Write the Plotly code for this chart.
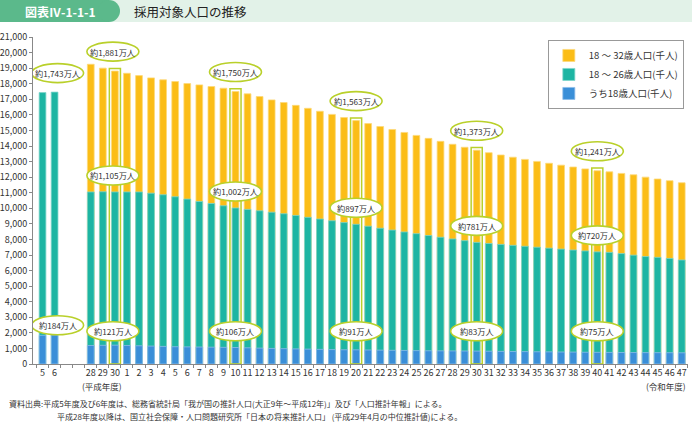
import plotly.graph_objects as go

# ---------------- data ----------------
x_ids = ["H5", "H6", "G1", "G2", "H28", "H29", "H30",
         "R1", "R2", "R3", "R4", "R5", "R6", "R7", "R8", "R9", "R10",
         "R11", "R12", "R13", "R14", "R15", "R16", "R17", "R18", "R19", "R20",
         "R21", "R22", "R23", "R24", "R25", "R26", "R27", "R28", "R29", "R30",
         "R31", "R32", "R33", "R34", "R35", "R36", "R37", "R38", "R39", "R40",
         "R41", "R42", "R43", "R44", "R45", "R46", "R47"]
x_labels = ["5", "6", "", "", "28", "29", "30",
            "1", "2", "3", "4", "5", "6", "7", "8", "9", "10",
            "11", "12", "13", "14", "15", "16", "17", "18", "19", "20",
            "21", "22", "23", "24", "25", "26", "27", "28", "29", "30",
            "31", "32", "33", "34", "35", "36", "37", "38", "39", "40",
            "41", "42", "43", "44", "45", "46", "47"]

pop_18_32 = [None, None, None, None, 19250, 19000, 18810,
             18670, 18520, 18375, 18250, 18140, 18010, 17925, 17820, 17710, 17500,
             17350, 17175, 16960, 16790, 16610, 16420, 16230, 16030, 15830, 15630,
             15440, 15250, 15060, 14870, 14680, 14490, 14300, 14110, 13920, 13730,
             13570, 13420, 13280, 13140, 13010, 12890, 12770, 12650, 12530, 12410,
             12340, 12240, 12150, 12000, 11880, 11770, 11640]
pop_18_26 = [17430, 17460, None, None, 11050, 11060, 11050,
             11050, 11050, 10970, 10870, 10740, 10590, 10440, 10310, 10160, 10020,
             9930, 9840, 9750, 9650, 9540, 9420, 9310, 9200, 9080, 8970,
             8850, 8720, 8600, 8480, 8370, 8250, 8140, 8030, 7920, 7810,
             7740, 7680, 7620, 7560, 7500, 7440, 7380, 7320, 7260, 7200,
             7170, 7090, 6990, 6900, 6850, 6780, 6680]
pop_18 = [1840, 1860, None, None, 1190, 1200, 1210,
          1190, 1170, 1150, 1130, 1110, 1100, 1090, 1080, 1070, 1060,
          1040, 1020, 1000, 985, 970, 955, 940, 925, 915, 910,
          900, 890, 880, 870, 860, 850, 845, 840, 835, 830,
          820, 810, 800, 795, 785, 780, 770, 765, 755, 750,
          745, 740, 735, 730, 728, 725, 720]

series_names = ["18 ～ 32歳人口(千人)", "18 ～ 26歳人口(千人)", "うち18歳人口(千人)"]
series_colors = ["#fbbd17", "#1db5a3", "#3a8fd8"]
series_edges = ["#fdd97a", "#7fd6cb", "#8dbdea"]

y_ticks = [0, 1000, 2000, 3000, 4000, 5000, 6000, 7000, 8000, 9000, 10000,
           11000, 12000, 13000, 14000, 15000, 16000, 17000, 18000, 19000, 20000, 21000]

hl_ids = ["H30", "R10", "R20", "R30", "R40"]
hl_text_32 = ["約1,881万人", "約1,750万人", "約1,563万人", "約1,373万人", "約1,241万人"]
hl_text_26 = ["約1,105万人", "約1,002万人", "約897万人", "約781万人", "約720万人"]
hl_text_18 = ["約121万人", "約106万人", "約91万人", "約83万人", "約75万人"]
early_id = "H6"
early_text_26 = "約1,743万人"
early_text_18 = "約184万人"

title_tag = "図表Ⅳ-1-1-1"
title_text = "採用対象人口の推移"
era_heisei = "(平成年度)"
era_reiwa = "(令和年度)"
source_1 = "資料出典:平成5年度及び6年度は、総務省統計局「我が国の推計人口(大正9年～平成12年)」及び「人口推計年報」による。"
source_2 = "平成28年度以降は、国立社会保障・人口問題研究所「日本の将来推計人口」 (平成29年4月の中位推計値)による。"

FONT = "Noto Sans CJK JP"
ACCENT = "#b9d02a"
W, H = 692, 423
ML, MR, MT, MB = 33, 4, 37, 59

fig = go.Figure()
for name, vals, col, edge in zip(series_names, [pop_18_32, pop_18_26, pop_18],
                                 series_colors, series_edges):
    fig.add_trace(go.Bar(x=x_ids, y=vals, name=name, width=0.56,
                         marker=dict(color=col, line=dict(color=edge, width=0.8)),
                         hoverinfo="skip"))

shapes = []
annotations = []

# highlight boxes around selected bars
for xid in hl_ids:
    i = x_ids.index(xid)
    shapes.append(dict(type="rect", xref="x", yref="y",
                       x0=i - 0.46, x1=i + 0.46, y0=0, y1=pop_18_32[i] + 170,
                       line=dict(color=ACCENT, width=1.5), fillcolor="rgba(0,0,0,0)",
                       layer="above"))


def callout(i, yval, text, dy, dx=0, w=52, h=19):
    shapes.append(dict(type="circle", xref="x", yref="y",
                       xsizemode="pixel", ysizemode="pixel",
                       xanchor=i, yanchor=yval,
                       x0=dx - w / 2, x1=dx + w / 2, y0=dy - h / 2, y1=dy + h / 2,
                       fillcolor="white", line=dict(color=ACCENT, width=1.6),
                       layer="above"))
    annotations.append(dict(x=i, y=yval, xref="x", yref="y", text=text,
                            xshift=dx, yshift=dy, xanchor="center", yanchor="middle",
                            showarrow=False,
                            font=dict(family=FONT, size=8.2, color="#333")))


BLUE_ROW = 2100
for k, xid in enumerate(hl_ids):
    i = x_ids.index(xid)
    dx = -2 if xid == "H30" else 0
    callout(i, pop_18_32[i], hl_text_32[k], 19.5, dx)
    callout(i, pop_18_26[i], hl_text_26[k], 16.5, dx)
    callout(i, BLUE_ROW, hl_text_18[k], 0, dx)

ie = x_ids.index(early_id)
callout(ie, pop_18_26[ie], early_text_26, 19, 3)
callout(ie, BLUE_ROW, early_text_18, 6, 3)


def band(x0px, x1px, y0px, y1px, color, kind="rect"):
    # layout decoration in absolute page pixels (top-left origin)
    shapes.append(dict(type=kind, xref="paper", yref="paper",
                       xsizemode="pixel", ysizemode="pixel", xanchor=0, yanchor=1,
                       x0=x0px - ML, x1=x1px - ML, y0=MT - y1px, y1=MT - y0px,
                       fillcolor=color, line=dict(width=0), layer="below"))


def page_text(xpx, ypx, text, size, color, xanchor="left", bold=False):
    annotations.append(dict(xref="paper", yref="paper", x=0, y=1,
                            xshift=xpx - ML, yshift=MT - ypx,
                            xanchor=xanchor, yanchor="middle",
                            text=("<b>%s</b>" % text) if bold else text,
                            showarrow=False,
                            font=dict(family=FONT, size=size, color=color)))


band(0, W, 0, 22, "#e2f2e8")
band(-12, 109, 0, 22, "#5bb98b")
band(98, 120, 0, 22, "#5bb98b", kind="circle")
page_text(60, 11, title_tag, 12, "white", xanchor="center", bold=True)
page_text(132, 11, title_text, 12.5, "#222")

# era labels under axis
annotations.append(dict(xref="x", yref="paper", x=x_ids.index("H29") - 0.1, y=0,
                        yshift=-21.5, xanchor="center", yanchor="middle",
                        text=era_heisei, showarrow=False,
                        font=dict(family=FONT, size=8.5, color="#333")))
annotations.append(dict(xref="paper", yref="paper", x=1, y=0, xanchor="right",
                        yanchor="middle", yshift=-22,
                        text=era_reiwa, showarrow=False,
                        font=dict(family=FONT, size=8.5, color="#333")))

# source notes
page_text(7, 403, source_1, 8, "#333")
page_text(55, 416, source_2, 8, "#333")

fig.update_layout(
    width=W, height=H, margin=dict(l=ML, r=MR, t=MT, b=MB, pad=0, autoexpand=False),
    paper_bgcolor="white", plot_bgcolor="white",
    barmode="overlay", bargap=0,
    font=dict(family=FONT, size=10, color="#333"),
    shapes=shapes, annotations=annotations,
    legend=dict(x=0.786, y=0.991, xanchor="left", yanchor="top",
                bgcolor="white", bordercolor="#999", borderwidth=1,
                font=dict(family=FONT, size=9.5, color="#333"),
                traceorder="normal", itemwidth=30, tracegroupgap=2),
    xaxis=dict(type="category", categoryorder="array", categoryarray=x_ids,
               tickmode="array", tickvals=x_ids, ticktext=x_labels,
               range=[-0.79, 53.52], tickson="boundaries", automargin=False,
               showline=True, linecolor="#888", linewidth=1,
               ticks="outside", ticklen=3, tickcolor="#888", tickangle=0,
               showgrid=False, zeroline=False,
               tickfont=dict(family=FONT, size=9, color="#333")),
    yaxis=dict(range=[0, 21000], tickmode="array", tickvals=y_ticks, automargin=False,
               tickformat=",", showline=True, linecolor="#888", linewidth=1,
               ticks="outside", ticklen=3, tickcolor="#888",
               showgrid=False, zeroline=False,
               tickfont=dict(family=FONT, size=9, color="#333")),
    showlegend=True,
)

fig.write_html("out.html",
               config={"displayModeBar": False, "staticPlot": True},
               post_script="document.body.style.margin='0px';"
                           "document.body.style.padding='0px';"
                           "document.body.style.overflow='hidden';")
